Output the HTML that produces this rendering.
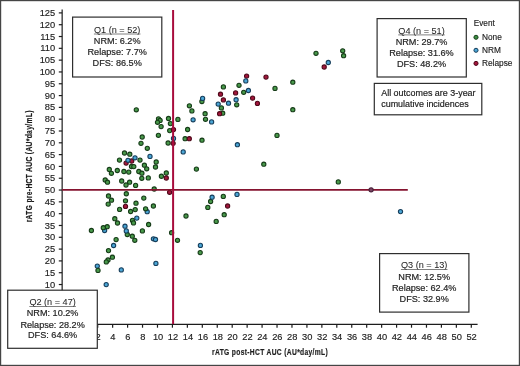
<!DOCTYPE html><html><head><meta charset="utf-8"><style>
html,body{margin:0;padding:0;background:#fff;}
#wrap{position:relative;width:520px;height:366px;overflow:hidden;background:#fff;}
#wrap svg{position:absolute;left:0;top:0;}
text{font-family:"Liberation Sans", Arial, Helvetica, sans-serif;}
</style></head><body><div id="wrap">
<svg width="520" height="366" viewBox="0 0 520 366">
<rect x="0" y="0" width="520" height="366" fill="#fff"/>
<g stroke="#1c1c1c" stroke-width="1.2" fill="none">
<line x1="62.15" y1="9.4" x2="62.15" y2="325.0"/>
<line x1="61.55" y1="324.4" x2="477.6" y2="324.4"/>
<line x1="58.8" y1="308.15" x2="62.15" y2="308.15"/>
<line x1="58.8" y1="296.34" x2="62.15" y2="296.34"/>
<line x1="58.8" y1="284.53" x2="62.15" y2="284.53"/>
<line x1="58.8" y1="272.72" x2="62.15" y2="272.72"/>
<line x1="58.8" y1="260.91" x2="62.15" y2="260.91"/>
<line x1="58.8" y1="249.10" x2="62.15" y2="249.10"/>
<line x1="58.8" y1="237.29" x2="62.15" y2="237.29"/>
<line x1="58.8" y1="225.48" x2="62.15" y2="225.48"/>
<line x1="58.8" y1="213.67" x2="62.15" y2="213.67"/>
<line x1="58.8" y1="201.86" x2="62.15" y2="201.86"/>
<line x1="58.8" y1="190.05" x2="62.15" y2="190.05"/>
<line x1="58.8" y1="178.24" x2="62.15" y2="178.24"/>
<line x1="58.8" y1="166.43" x2="62.15" y2="166.43"/>
<line x1="58.8" y1="154.62" x2="62.15" y2="154.62"/>
<line x1="58.8" y1="142.81" x2="62.15" y2="142.81"/>
<line x1="58.8" y1="131.00" x2="62.15" y2="131.00"/>
<line x1="58.8" y1="119.19" x2="62.15" y2="119.19"/>
<line x1="58.8" y1="107.38" x2="62.15" y2="107.38"/>
<line x1="58.8" y1="95.57" x2="62.15" y2="95.57"/>
<line x1="58.8" y1="83.76" x2="62.15" y2="83.76"/>
<line x1="58.8" y1="71.95" x2="62.15" y2="71.95"/>
<line x1="58.8" y1="60.14" x2="62.15" y2="60.14"/>
<line x1="58.8" y1="48.33" x2="62.15" y2="48.33"/>
<line x1="58.8" y1="36.52" x2="62.15" y2="36.52"/>
<line x1="58.8" y1="24.71" x2="62.15" y2="24.71"/>
<line x1="58.8" y1="12.90" x2="62.15" y2="12.90"/>
<line x1="82.76" y1="324.4" x2="82.76" y2="327.7"/>
<line x1="97.70" y1="324.4" x2="97.70" y2="327.7"/>
<line x1="112.64" y1="324.4" x2="112.64" y2="327.7"/>
<line x1="127.59" y1="324.4" x2="127.59" y2="327.7"/>
<line x1="142.53" y1="324.4" x2="142.53" y2="327.7"/>
<line x1="157.48" y1="324.4" x2="157.48" y2="327.7"/>
<line x1="172.42" y1="324.4" x2="172.42" y2="327.7"/>
<line x1="187.36" y1="324.4" x2="187.36" y2="327.7"/>
<line x1="202.31" y1="324.4" x2="202.31" y2="327.7"/>
<line x1="217.25" y1="324.4" x2="217.25" y2="327.7"/>
<line x1="232.20" y1="324.4" x2="232.20" y2="327.7"/>
<line x1="247.14" y1="324.4" x2="247.14" y2="327.7"/>
<line x1="262.08" y1="324.4" x2="262.08" y2="327.7"/>
<line x1="277.03" y1="324.4" x2="277.03" y2="327.7"/>
<line x1="291.97" y1="324.4" x2="291.97" y2="327.7"/>
<line x1="306.92" y1="324.4" x2="306.92" y2="327.7"/>
<line x1="321.86" y1="324.4" x2="321.86" y2="327.7"/>
<line x1="336.80" y1="324.4" x2="336.80" y2="327.7"/>
<line x1="351.75" y1="324.4" x2="351.75" y2="327.7"/>
<line x1="366.69" y1="324.4" x2="366.69" y2="327.7"/>
<line x1="381.64" y1="324.4" x2="381.64" y2="327.7"/>
<line x1="396.58" y1="324.4" x2="396.58" y2="327.7"/>
<line x1="411.52" y1="324.4" x2="411.52" y2="327.7"/>
<line x1="426.47" y1="324.4" x2="426.47" y2="327.7"/>
<line x1="441.41" y1="324.4" x2="441.41" y2="327.7"/>
<line x1="456.36" y1="324.4" x2="456.36" y2="327.7"/>
<line x1="471.30" y1="324.4" x2="471.30" y2="327.7"/>
</g>
<g font-size="9.3" fill="#222" stroke="#222" stroke-width="0.15" text-anchor="end">
<text x="55.2" y="311.25">0</text>
<text x="55.2" y="299.44">5</text>
<text x="55.2" y="287.63">10</text>
<text x="55.2" y="275.82">15</text>
<text x="55.2" y="264.01">20</text>
<text x="55.2" y="252.20">25</text>
<text x="55.2" y="240.39">30</text>
<text x="55.2" y="228.58">35</text>
<text x="55.2" y="216.77">40</text>
<text x="55.2" y="204.96">45</text>
<text x="55.2" y="193.15">50</text>
<text x="55.2" y="181.34">55</text>
<text x="55.2" y="169.53">60</text>
<text x="55.2" y="157.72">65</text>
<text x="55.2" y="145.91">70</text>
<text x="55.2" y="134.10">75</text>
<text x="55.2" y="122.29">80</text>
<text x="55.2" y="110.48">85</text>
<text x="55.2" y="98.67">90</text>
<text x="55.2" y="86.86">95</text>
<text x="55.2" y="75.05">100</text>
<text x="55.2" y="63.24">105</text>
<text x="55.2" y="51.43">110</text>
<text x="55.2" y="39.62">115</text>
<text x="55.2" y="27.81">120</text>
<text x="55.2" y="16.00">125</text>
</g>
<g font-size="9.3" fill="#222" stroke="#222" stroke-width="0.15" text-anchor="middle">
<text x="83.06" y="339.9">0</text>
<text x="98.00" y="339.9">2</text>
<text x="112.94" y="339.9">4</text>
<text x="127.89" y="339.9">6</text>
<text x="142.83" y="339.9">8</text>
<text x="158.08" y="339.9">10</text>
<text x="173.02" y="339.9">12</text>
<text x="187.96" y="339.9">14</text>
<text x="202.91" y="339.9">16</text>
<text x="217.85" y="339.9">18</text>
<text x="232.50" y="339.9">20</text>
<text x="247.44" y="339.9">22</text>
<text x="262.38" y="339.9">24</text>
<text x="277.33" y="339.9">26</text>
<text x="292.27" y="339.9">28</text>
<text x="307.22" y="339.9">30</text>
<text x="322.16" y="339.9">32</text>
<text x="337.10" y="339.9">34</text>
<text x="352.05" y="339.9">36</text>
<text x="366.99" y="339.9">38</text>
<text x="381.94" y="339.9">40</text>
<text x="396.88" y="339.9">42</text>
<text x="411.82" y="339.9">44</text>
<text x="426.77" y="339.9">46</text>
<text x="441.71" y="339.9">48</text>
<text x="456.66" y="339.9">50</text>
<text x="471.60" y="339.9">52</text>
</g>
<text transform="translate(270.06,355.4) scale(0.7,1)" font-size="9.6" font-weight="bold" fill="#1e1e1e" stroke="#1e1e1e" stroke-width="0.2" text-anchor="middle" letter-spacing="0.471">rATG post-HCT AUC (AU*day/mL)</text>
<text transform="translate(32.3,166.33) rotate(-90) scale(0.7,1)" font-size="9.6" font-weight="bold" fill="#1e1e1e" stroke="#1e1e1e" stroke-width="0.2" text-anchor="middle" letter-spacing="0.474">rATG pre-HCT AUC (AU*day/mL)</text>
<circle cx="316.0" cy="53.3" r="2.1" fill="#489a4a" stroke="#163c18" stroke-width="1.1"/>
<circle cx="342.7" cy="50.8" r="2.1" fill="#489a4a" stroke="#163c18" stroke-width="1.1"/>
<circle cx="343.6" cy="55.7" r="2.1" fill="#489a4a" stroke="#163c18" stroke-width="1.1"/>
<circle cx="292.8" cy="82.2" r="2.1" fill="#489a4a" stroke="#163c18" stroke-width="1.1"/>
<circle cx="275.0" cy="88.4" r="2.1" fill="#489a4a" stroke="#163c18" stroke-width="1.1"/>
<circle cx="292.8" cy="109.7" r="2.1" fill="#489a4a" stroke="#163c18" stroke-width="1.1"/>
<circle cx="277.0" cy="135.4" r="2.1" fill="#489a4a" stroke="#163c18" stroke-width="1.1"/>
<circle cx="263.8" cy="164.2" r="2.1" fill="#489a4a" stroke="#163c18" stroke-width="1.1"/>
<circle cx="338.3" cy="181.9" r="2.1" fill="#489a4a" stroke="#163c18" stroke-width="1.1"/>
<circle cx="239.0" cy="85.3" r="2.1" fill="#489a4a" stroke="#163c18" stroke-width="1.1"/>
<circle cx="223.4" cy="86.9" r="2.1" fill="#489a4a" stroke="#163c18" stroke-width="1.1"/>
<circle cx="243.7" cy="92.3" r="2.1" fill="#489a4a" stroke="#163c18" stroke-width="1.1"/>
<circle cx="201.9" cy="101.5" r="2.1" fill="#489a4a" stroke="#163c18" stroke-width="1.1"/>
<circle cx="236.7" cy="104.8" r="2.1" fill="#489a4a" stroke="#163c18" stroke-width="1.1"/>
<circle cx="221.4" cy="107.9" r="2.1" fill="#489a4a" stroke="#163c18" stroke-width="1.1"/>
<circle cx="222.7" cy="113.2" r="2.1" fill="#489a4a" stroke="#163c18" stroke-width="1.1"/>
<circle cx="205.1" cy="113.7" r="2.1" fill="#489a4a" stroke="#163c18" stroke-width="1.1"/>
<circle cx="205.5" cy="119.3" r="2.1" fill="#489a4a" stroke="#163c18" stroke-width="1.1"/>
<circle cx="202.0" cy="140.2" r="2.1" fill="#489a4a" stroke="#163c18" stroke-width="1.1"/>
<circle cx="189.4" cy="105.8" r="2.1" fill="#489a4a" stroke="#163c18" stroke-width="1.1"/>
<circle cx="191.9" cy="110.9" r="2.1" fill="#489a4a" stroke="#163c18" stroke-width="1.1"/>
<circle cx="158.5" cy="118.8" r="2.1" fill="#489a4a" stroke="#163c18" stroke-width="1.1"/>
<circle cx="160.1" cy="120.4" r="2.1" fill="#489a4a" stroke="#163c18" stroke-width="1.1"/>
<circle cx="157.5" cy="122.3" r="2.1" fill="#489a4a" stroke="#163c18" stroke-width="1.1"/>
<circle cx="168.5" cy="118.5" r="2.1" fill="#489a4a" stroke="#163c18" stroke-width="1.1"/>
<circle cx="177.9" cy="119.4" r="2.1" fill="#489a4a" stroke="#163c18" stroke-width="1.1"/>
<circle cx="170.4" cy="123.6" r="2.1" fill="#489a4a" stroke="#163c18" stroke-width="1.1"/>
<circle cx="161.1" cy="126.6" r="2.1" fill="#489a4a" stroke="#163c18" stroke-width="1.1"/>
<circle cx="169.7" cy="130.6" r="2.1" fill="#489a4a" stroke="#163c18" stroke-width="1.1"/>
<circle cx="187.6" cy="129.5" r="2.1" fill="#489a4a" stroke="#163c18" stroke-width="1.1"/>
<circle cx="158.4" cy="135.3" r="2.1" fill="#489a4a" stroke="#163c18" stroke-width="1.1"/>
<circle cx="185.1" cy="138.7" r="2.1" fill="#489a4a" stroke="#163c18" stroke-width="1.1"/>
<circle cx="142.2" cy="137.0" r="2.1" fill="#489a4a" stroke="#163c18" stroke-width="1.1"/>
<circle cx="141.0" cy="143.3" r="2.1" fill="#489a4a" stroke="#163c18" stroke-width="1.1"/>
<circle cx="168.1" cy="143.0" r="2.1" fill="#489a4a" stroke="#163c18" stroke-width="1.1"/>
<circle cx="147.3" cy="148.3" r="2.1" fill="#489a4a" stroke="#163c18" stroke-width="1.1"/>
<circle cx="156.2" cy="162.0" r="2.1" fill="#489a4a" stroke="#163c18" stroke-width="1.1"/>
<circle cx="155.5" cy="167.0" r="2.1" fill="#489a4a" stroke="#163c18" stroke-width="1.1"/>
<circle cx="124.5" cy="153.0" r="2.1" fill="#489a4a" stroke="#163c18" stroke-width="1.1"/>
<circle cx="129.8" cy="154.2" r="2.1" fill="#489a4a" stroke="#163c18" stroke-width="1.1"/>
<circle cx="119.5" cy="160.1" r="2.1" fill="#489a4a" stroke="#163c18" stroke-width="1.1"/>
<circle cx="140.0" cy="160.1" r="2.1" fill="#489a4a" stroke="#163c18" stroke-width="1.1"/>
<circle cx="131.5" cy="166.5" r="2.1" fill="#489a4a" stroke="#163c18" stroke-width="1.1"/>
<circle cx="133.8" cy="166.6" r="2.1" fill="#489a4a" stroke="#163c18" stroke-width="1.1"/>
<circle cx="144.4" cy="165.2" r="2.1" fill="#489a4a" stroke="#163c18" stroke-width="1.1"/>
<circle cx="146.7" cy="168.8" r="2.1" fill="#489a4a" stroke="#163c18" stroke-width="1.1"/>
<circle cx="109.3" cy="169.5" r="2.1" fill="#489a4a" stroke="#163c18" stroke-width="1.1"/>
<circle cx="111.4" cy="173.3" r="2.1" fill="#489a4a" stroke="#163c18" stroke-width="1.1"/>
<circle cx="117.3" cy="170.5" r="2.1" fill="#489a4a" stroke="#163c18" stroke-width="1.1"/>
<circle cx="123.9" cy="171.5" r="2.1" fill="#489a4a" stroke="#163c18" stroke-width="1.1"/>
<circle cx="128.75" cy="172.1" r="2.1" fill="#489a4a" stroke="#163c18" stroke-width="1.1"/>
<circle cx="138.8" cy="171.5" r="2.1" fill="#489a4a" stroke="#163c18" stroke-width="1.1"/>
<circle cx="141.9" cy="173.2" r="2.1" fill="#489a4a" stroke="#163c18" stroke-width="1.1"/>
<circle cx="141.8" cy="178.3" r="2.1" fill="#489a4a" stroke="#163c18" stroke-width="1.1"/>
<circle cx="148.3" cy="177.9" r="2.1" fill="#489a4a" stroke="#163c18" stroke-width="1.1"/>
<circle cx="121.7" cy="181.0" r="2.1" fill="#489a4a" stroke="#163c18" stroke-width="1.1"/>
<circle cx="129.6" cy="182.2" r="2.1" fill="#489a4a" stroke="#163c18" stroke-width="1.1"/>
<circle cx="105.2" cy="180.0" r="2.1" fill="#489a4a" stroke="#163c18" stroke-width="1.1"/>
<circle cx="107.5" cy="182.2" r="2.1" fill="#489a4a" stroke="#163c18" stroke-width="1.1"/>
<circle cx="126.0" cy="185.0" r="2.1" fill="#489a4a" stroke="#163c18" stroke-width="1.1"/>
<circle cx="135.6" cy="185.4" r="2.1" fill="#489a4a" stroke="#163c18" stroke-width="1.1"/>
<circle cx="166.3" cy="173.0" r="2.1" fill="#489a4a" stroke="#163c18" stroke-width="1.1"/>
<circle cx="161.4" cy="176.25" r="2.1" fill="#489a4a" stroke="#163c18" stroke-width="1.1"/>
<circle cx="154.2" cy="189.0" r="2.1" fill="#489a4a" stroke="#163c18" stroke-width="1.1"/>
<circle cx="126.3" cy="193.75" r="2.1" fill="#489a4a" stroke="#163c18" stroke-width="1.1"/>
<circle cx="108.5" cy="196.0" r="2.1" fill="#489a4a" stroke="#163c18" stroke-width="1.1"/>
<circle cx="111.5" cy="200.2" r="2.1" fill="#489a4a" stroke="#163c18" stroke-width="1.1"/>
<circle cx="108.2" cy="204.1" r="2.1" fill="#489a4a" stroke="#163c18" stroke-width="1.1"/>
<circle cx="125.5" cy="200.8" r="2.1" fill="#489a4a" stroke="#163c18" stroke-width="1.1"/>
<circle cx="136.0" cy="203.2" r="2.1" fill="#489a4a" stroke="#163c18" stroke-width="1.1"/>
<circle cx="143.8" cy="198.1" r="2.1" fill="#489a4a" stroke="#163c18" stroke-width="1.1"/>
<circle cx="119.6" cy="209.4" r="2.1" fill="#489a4a" stroke="#163c18" stroke-width="1.1"/>
<circle cx="130.6" cy="211.5" r="2.1" fill="#489a4a" stroke="#163c18" stroke-width="1.1"/>
<circle cx="135.2" cy="209.6" r="2.1" fill="#489a4a" stroke="#163c18" stroke-width="1.1"/>
<circle cx="153.4" cy="206.0" r="2.1" fill="#489a4a" stroke="#163c18" stroke-width="1.1"/>
<circle cx="114.8" cy="218.7" r="2.1" fill="#489a4a" stroke="#163c18" stroke-width="1.1"/>
<circle cx="117.5" cy="223.0" r="2.1" fill="#489a4a" stroke="#163c18" stroke-width="1.1"/>
<circle cx="132.5" cy="220.4" r="2.1" fill="#489a4a" stroke="#163c18" stroke-width="1.1"/>
<circle cx="133.5" cy="222.9" r="2.1" fill="#489a4a" stroke="#163c18" stroke-width="1.1"/>
<circle cx="142.4" cy="230.9" r="2.1" fill="#489a4a" stroke="#163c18" stroke-width="1.1"/>
<circle cx="186.0" cy="216.0" r="2.1" fill="#489a4a" stroke="#163c18" stroke-width="1.1"/>
<circle cx="148.6" cy="224.5" r="2.1" fill="#489a4a" stroke="#163c18" stroke-width="1.1"/>
<circle cx="171.6" cy="232.7" r="2.1" fill="#489a4a" stroke="#163c18" stroke-width="1.1"/>
<circle cx="210.6" cy="201.5" r="2.1" fill="#489a4a" stroke="#163c18" stroke-width="1.1"/>
<circle cx="223.3" cy="196.4" r="2.1" fill="#489a4a" stroke="#163c18" stroke-width="1.1"/>
<circle cx="207.8" cy="207.4" r="2.1" fill="#489a4a" stroke="#163c18" stroke-width="1.1"/>
<circle cx="224.2" cy="214.7" r="2.1" fill="#489a4a" stroke="#163c18" stroke-width="1.1"/>
<circle cx="216.2" cy="221.4" r="2.1" fill="#489a4a" stroke="#163c18" stroke-width="1.1"/>
<circle cx="196.4" cy="169.1" r="2.1" fill="#489a4a" stroke="#163c18" stroke-width="1.1"/>
<circle cx="177.5" cy="240.3" r="2.1" fill="#489a4a" stroke="#163c18" stroke-width="1.1"/>
<circle cx="134.8" cy="240.3" r="2.1" fill="#489a4a" stroke="#163c18" stroke-width="1.1"/>
<circle cx="127.3" cy="234.5" r="2.1" fill="#489a4a" stroke="#163c18" stroke-width="1.1"/>
<circle cx="132.3" cy="236.2" r="2.1" fill="#489a4a" stroke="#163c18" stroke-width="1.1"/>
<circle cx="116.1" cy="239.6" r="2.1" fill="#489a4a" stroke="#163c18" stroke-width="1.1"/>
<circle cx="108.5" cy="250.6" r="2.1" fill="#489a4a" stroke="#163c18" stroke-width="1.1"/>
<circle cx="112.4" cy="257.2" r="2.1" fill="#489a4a" stroke="#163c18" stroke-width="1.1"/>
<circle cx="108.0" cy="260.0" r="2.1" fill="#489a4a" stroke="#163c18" stroke-width="1.1"/>
<circle cx="106.3" cy="261.9" r="2.1" fill="#489a4a" stroke="#163c18" stroke-width="1.1"/>
<circle cx="200.2" cy="252.6" r="2.1" fill="#489a4a" stroke="#163c18" stroke-width="1.1"/>
<circle cx="91.4" cy="230.5" r="2.1" fill="#489a4a" stroke="#163c18" stroke-width="1.1"/>
<circle cx="136.3" cy="109.8" r="2.1" fill="#489a4a" stroke="#163c18" stroke-width="1.1"/>
<circle cx="324.2" cy="67.0" r="2.1" fill="#a3163c" stroke="#4e0819" stroke-width="1.1"/>
<circle cx="266.0" cy="77.1" r="2.1" fill="#a3163c" stroke="#4e0819" stroke-width="1.1"/>
<circle cx="252.6" cy="98.1" r="2.1" fill="#a3163c" stroke="#4e0819" stroke-width="1.1"/>
<circle cx="257.4" cy="103.4" r="2.1" fill="#a3163c" stroke="#4e0819" stroke-width="1.1"/>
<circle cx="246.6" cy="76.1" r="2.1" fill="#a3163c" stroke="#4e0819" stroke-width="1.1"/>
<circle cx="235.6" cy="92.9" r="2.1" fill="#a3163c" stroke="#4e0819" stroke-width="1.1"/>
<circle cx="220.5" cy="94.2" r="2.1" fill="#a3163c" stroke="#4e0819" stroke-width="1.1"/>
<circle cx="223.4" cy="99.9" r="2.1" fill="#a3163c" stroke="#4e0819" stroke-width="1.1"/>
<circle cx="219.6" cy="113.7" r="2.1" fill="#a3163c" stroke="#4e0819" stroke-width="1.1"/>
<circle cx="173.5" cy="129.6" r="2.1" fill="#a3163c" stroke="#4e0819" stroke-width="1.1"/>
<circle cx="189.3" cy="138.7" r="2.1" fill="#a3163c" stroke="#4e0819" stroke-width="1.1"/>
<circle cx="173.1" cy="143.3" r="2.1" fill="#a3163c" stroke="#4e0819" stroke-width="1.1"/>
<circle cx="131.7" cy="161.0" r="2.1" fill="#a3163c" stroke="#4e0819" stroke-width="1.1"/>
<circle cx="126.1" cy="163.1" r="2.1" fill="#a3163c" stroke="#4e0819" stroke-width="1.1"/>
<circle cx="166.3" cy="178.0" r="2.1" fill="#a3163c" stroke="#4e0819" stroke-width="1.1"/>
<circle cx="169.6" cy="192.3" r="2.1" fill="#a3163c" stroke="#4e0819" stroke-width="1.1"/>
<circle cx="125.5" cy="206.4" r="2.1" fill="#a3163c" stroke="#4e0819" stroke-width="1.1"/>
<circle cx="227.6" cy="206.0" r="2.1" fill="#a3163c" stroke="#4e0819" stroke-width="1.1"/>
<circle cx="328.3" cy="62.5" r="2.1" fill="#4aa6d6" stroke="#173f5c" stroke-width="1.1"/>
<circle cx="248.4" cy="90.5" r="2.1" fill="#4aa6d6" stroke="#173f5c" stroke-width="1.1"/>
<circle cx="245.8" cy="80.9" r="2.1" fill="#4aa6d6" stroke="#173f5c" stroke-width="1.1"/>
<circle cx="236.1" cy="99.7" r="2.1" fill="#4aa6d6" stroke="#173f5c" stroke-width="1.1"/>
<circle cx="202.6" cy="98.4" r="2.1" fill="#4aa6d6" stroke="#173f5c" stroke-width="1.1"/>
<circle cx="218.2" cy="104.1" r="2.1" fill="#4aa6d6" stroke="#173f5c" stroke-width="1.1"/>
<circle cx="228.5" cy="103.2" r="2.1" fill="#4aa6d6" stroke="#173f5c" stroke-width="1.1"/>
<circle cx="211.6" cy="121.9" r="2.1" fill="#4aa6d6" stroke="#173f5c" stroke-width="1.1"/>
<circle cx="193.1" cy="119.8" r="2.1" fill="#4aa6d6" stroke="#173f5c" stroke-width="1.1"/>
<circle cx="173.5" cy="138.4" r="2.1" fill="#4aa6d6" stroke="#173f5c" stroke-width="1.1"/>
<circle cx="183.2" cy="151.9" r="2.1" fill="#4aa6d6" stroke="#173f5c" stroke-width="1.1"/>
<circle cx="150.0" cy="156.4" r="2.1" fill="#4aa6d6" stroke="#173f5c" stroke-width="1.1"/>
<circle cx="135.0" cy="157.8" r="2.1" fill="#4aa6d6" stroke="#173f5c" stroke-width="1.1"/>
<circle cx="128.0" cy="160.3" r="2.1" fill="#4aa6d6" stroke="#173f5c" stroke-width="1.1"/>
<circle cx="237.4" cy="144.7" r="2.1" fill="#4aa6d6" stroke="#173f5c" stroke-width="1.1"/>
<circle cx="400.5" cy="211.6" r="2.1" fill="#4aa6d6" stroke="#173f5c" stroke-width="1.1"/>
<circle cx="212.1" cy="197.2" r="2.1" fill="#4aa6d6" stroke="#173f5c" stroke-width="1.1"/>
<circle cx="237.0" cy="194.4" r="2.1" fill="#4aa6d6" stroke="#173f5c" stroke-width="1.1"/>
<circle cx="147.2" cy="211.7" r="2.1" fill="#4aa6d6" stroke="#173f5c" stroke-width="1.1"/>
<circle cx="136.8" cy="218.1" r="2.1" fill="#4aa6d6" stroke="#173f5c" stroke-width="1.1"/>
<circle cx="104.6" cy="230.5" r="2.1" fill="#4aa6d6" stroke="#173f5c" stroke-width="1.1"/>
<circle cx="125.0" cy="226.2" r="2.1" fill="#4aa6d6" stroke="#173f5c" stroke-width="1.1"/>
<circle cx="126.3" cy="230.9" r="2.1" fill="#4aa6d6" stroke="#173f5c" stroke-width="1.1"/>
<circle cx="153.4" cy="238.8" r="2.1" fill="#4aa6d6" stroke="#173f5c" stroke-width="1.1"/>
<circle cx="155.5" cy="239.5" r="2.1" fill="#4aa6d6" stroke="#173f5c" stroke-width="1.1"/>
<circle cx="155.9" cy="263.4" r="2.1" fill="#4aa6d6" stroke="#173f5c" stroke-width="1.1"/>
<circle cx="200.4" cy="245.4" r="2.1" fill="#4aa6d6" stroke="#173f5c" stroke-width="1.1"/>
<circle cx="113.6" cy="245.5" r="2.1" fill="#4aa6d6" stroke="#173f5c" stroke-width="1.1"/>
<circle cx="97.3" cy="266.1" r="2.1" fill="#4aa6d6" stroke="#173f5c" stroke-width="1.1"/>
<circle cx="121.3" cy="269.9" r="2.1" fill="#4aa6d6" stroke="#173f5c" stroke-width="1.1"/>
<circle cx="106.2" cy="284.6" r="2.1" fill="#4aa6d6" stroke="#173f5c" stroke-width="1.1"/>
<circle cx="145.6" cy="208.8" r="2.1" fill="#489a4a" stroke="#163c18" stroke-width="1.1"/>
<circle cx="107.2" cy="226.7" r="2.1" fill="#489a4a" stroke="#163c18" stroke-width="1.1"/>
<circle cx="103.3" cy="227.7" r="2.1" fill="#489a4a" stroke="#163c18" stroke-width="1.1"/>
<circle cx="98.0" cy="270.4" r="2.1" fill="#489a4a" stroke="#163c18" stroke-width="1.1"/>
<line x1="62.15" y1="189.8" x2="407.8" y2="189.8" stroke="#85132f" stroke-width="1.8"/>
<line x1="173.1" y1="10" x2="173.1" y2="324" stroke="#a80c3c" stroke-width="2"/>
<circle cx="371.1" cy="189.8" r="2.1" fill="#7a4462" stroke="#47203a" stroke-width="1.1"/>
<rect x="72.6" y="17.1" width="89.20" height="59.90" fill="#fff" stroke="#2e2e2e" stroke-width="1.2"/>
<text x="117.20" y="32.9" font-size="9.15" fill="#262626" stroke="#262626" stroke-width="0.05" text-anchor="middle">Q1 (n = 52)</text>
<line x1="93.93" y1="34.00" x2="140.47" y2="34.00" stroke="#555" stroke-width="0.75"/>
<text x="117.20" y="44.0" font-size="9.15" fill="#262626" stroke="#262626" stroke-width="0.2" text-anchor="middle">NRM: 6.2%</text>
<text x="117.20" y="55.0" font-size="9.15" fill="#262626" stroke="#262626" stroke-width="0.2" text-anchor="middle">Relapse: 7.7%</text>
<text x="117.20" y="65.9" font-size="9.15" fill="#262626" stroke="#262626" stroke-width="0.2" text-anchor="middle">DFS: 86.5%</text>
<rect x="377.1" y="18.6" width="89.20" height="58.40" fill="#fff" stroke="#2e2e2e" stroke-width="1.2"/>
<text x="421.50" y="33.8" font-size="9.15" fill="#262626" stroke="#262626" stroke-width="0.05" text-anchor="middle">Q4 (n = 51)</text>
<line x1="398.23" y1="34.90" x2="444.77" y2="34.90" stroke="#555" stroke-width="0.75"/>
<text x="421.50" y="44.8" font-size="9.15" fill="#262626" stroke="#262626" stroke-width="0.2" text-anchor="middle">NRM: 29.7%</text>
<text x="421.50" y="56.1" font-size="9.15" fill="#262626" stroke="#262626" stroke-width="0.2" text-anchor="middle">Relapse: 31.6%</text>
<text x="421.50" y="66.9" font-size="9.15" fill="#262626" stroke="#262626" stroke-width="0.2" text-anchor="middle">DFS: 48.2%</text>
<rect x="379.6" y="253.6" width="89.30" height="58.50" fill="#fff" stroke="#2e2e2e" stroke-width="1.2"/>
<text x="424.20" y="268.4" font-size="9.15" fill="#262626" stroke="#262626" stroke-width="0.05" text-anchor="middle">Q3 (n = 13)</text>
<line x1="400.93" y1="269.50" x2="447.47" y2="269.50" stroke="#555" stroke-width="0.75"/>
<text x="424.20" y="280.0" font-size="9.15" fill="#262626" stroke="#262626" stroke-width="0.2" text-anchor="middle">NRM: 12.5%</text>
<text x="424.20" y="291.1" font-size="9.15" fill="#262626" stroke="#262626" stroke-width="0.2" text-anchor="middle">Relapse: 62.4%</text>
<text x="424.20" y="302.3" font-size="9.15" fill="#262626" stroke="#262626" stroke-width="0.2" text-anchor="middle">DFS: 32.9%</text>
<rect x="7.7" y="290.2" width="89.60" height="58.10" fill="#fff" stroke="#2e2e2e" stroke-width="1.2"/>
<text x="52.60" y="305.4" font-size="9.15" fill="#262626" stroke="#262626" stroke-width="0.05" text-anchor="middle">Q2 (n = 47)</text>
<line x1="29.33" y1="306.50" x2="75.87" y2="306.50" stroke="#555" stroke-width="0.75"/>
<text x="52.60" y="316.3" font-size="9.15" fill="#262626" stroke="#262626" stroke-width="0.2" text-anchor="middle">NRM: 10.2%</text>
<text x="52.60" y="327.8" font-size="9.15" fill="#262626" stroke="#262626" stroke-width="0.2" text-anchor="middle">Relapse: 28.2%</text>
<text x="52.60" y="338.2" font-size="9.15" fill="#262626" stroke="#262626" stroke-width="0.2" text-anchor="middle">DFS: 64.6%</text>
<rect x="374.3" y="83.4" width="107.5" height="31.4" fill="#fff" stroke="#2e2e2e" stroke-width="1.2"/>
<text x="381.2" y="96.4" font-size="8.95" fill="#222" stroke="#222" stroke-width="0.18">All outcomes are 3-year</text>
<text x="381.2" y="107.4" font-size="8.95" fill="#222" stroke="#222" stroke-width="0.18">cumulative incidences</text>
<text x="473.8" y="26.3" font-size="8.2" fill="#222" stroke="#222" stroke-width="0.15">Event</text>
<circle cx="476.0" cy="37.3" r="2.05" fill="#3d8d42" stroke="#173f1a" stroke-width="1.0"/>
<text x="482.0" y="39.8" font-size="8.3" fill="#222" stroke="#222" stroke-width="0.15">None</text>
<circle cx="476.0" cy="50.3" r="2.05" fill="#4aa6d6" stroke="#173f5c" stroke-width="1.0"/>
<text x="482.0" y="52.8" font-size="8.3" fill="#222" stroke="#222" stroke-width="0.15">NRM</text>
<circle cx="476.0" cy="63.4" r="2.05" fill="#a3163c" stroke="#4e0819" stroke-width="1.0"/>
<text x="482.0" y="65.8" font-size="8.3" fill="#222" stroke="#222" stroke-width="0.15">Relapse</text>
<rect x="0.6" y="0.6" width="518.8" height="364.8" fill="none" stroke="#454545" stroke-width="1.2"/>
</svg></div></body></html>
